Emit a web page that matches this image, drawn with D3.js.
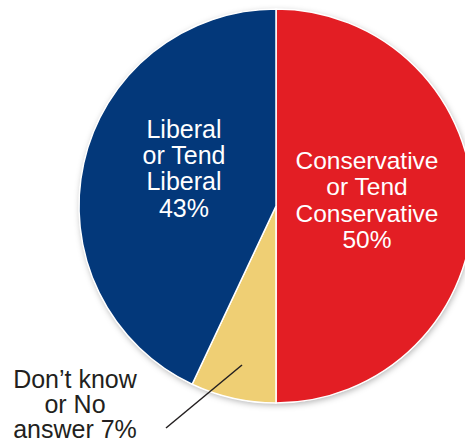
<!DOCTYPE html>
<html><head><meta charset="utf-8">
<script src="https://cdn.jsdelivr.net/npm/d3@7/dist/d3.min.js"></script>
<style>body{margin:0;background:#fff}svg{display:block}</style>
</head><body>
<svg id="c" width="465" height="440"></svg>
<script>
const categories = ["Conservative or Tend Conservative", "Don't know or No answer", "Liberal or Tend Liberal"];
const values = [50, 7, 43];
const colors = ["#E31E24", "#EFCF74", "#03387A"];
const insideLabels = [["Conservative","or Tend","Conservative","50%"], null, ["Liberal","or Tend","Liberal","43%"]];
const outsideLabel = ["Don\u2019t know","or No","answer 7%"];

const svg = d3.select("#c");
const cx = 276, cy = 206, r = 197;
const defs = svg.append("defs");
const f = defs.append("filter").attr("id","sh").attr("x","-10%").attr("y","-10%").attr("width","120%").attr("height","120%");
f.append("feDropShadow").attr("dx",1).attr("dy",2).attr("stdDeviation",3).attr("flood-color","#000").attr("flood-opacity",0.3);

const pie = d3.pie().sort(null).value(d => d)(values);
const arc = d3.arc().innerRadius(0).outerRadius(r);
const g = svg.append("g").attr("transform", `translate(${cx},${cy})`);
g.append("circle").attr("r", r).attr("fill", "#fff").attr("filter","url(#sh)");
g.selectAll("path").data(pie).join("path")
  .attr("d", arc).attr("fill", (d,i) => colors[i])
  .attr("stroke", "#fff").attr("stroke-width", 1.5);

function block(lines, x, y0, lh, size, fill) {
  const t = svg.append("text").attr("text-anchor","middle")
    .attr("font-family","Liberation Sans, Arial, sans-serif").attr("font-size",size).attr("fill",fill);
  lines.forEach((l,i) => t.append("tspan").attr("x",x).attr("y",y0+i*lh).text(l));
}
block(insideLabels[0], 367, 169, 26.4, 24.5, "#fff");
block(insideLabels[2], 184, 138, 26.2, 25, "#fff");
block(outsideLabel, 75, 388, 25, 25, "#231f20");

svg.append("line").attr("x1",166).attr("y1",428).attr("x2",242).attr("y2",365)
  .attr("stroke","#231f20").attr("stroke-width",1.5);
</script>
</body></html>
